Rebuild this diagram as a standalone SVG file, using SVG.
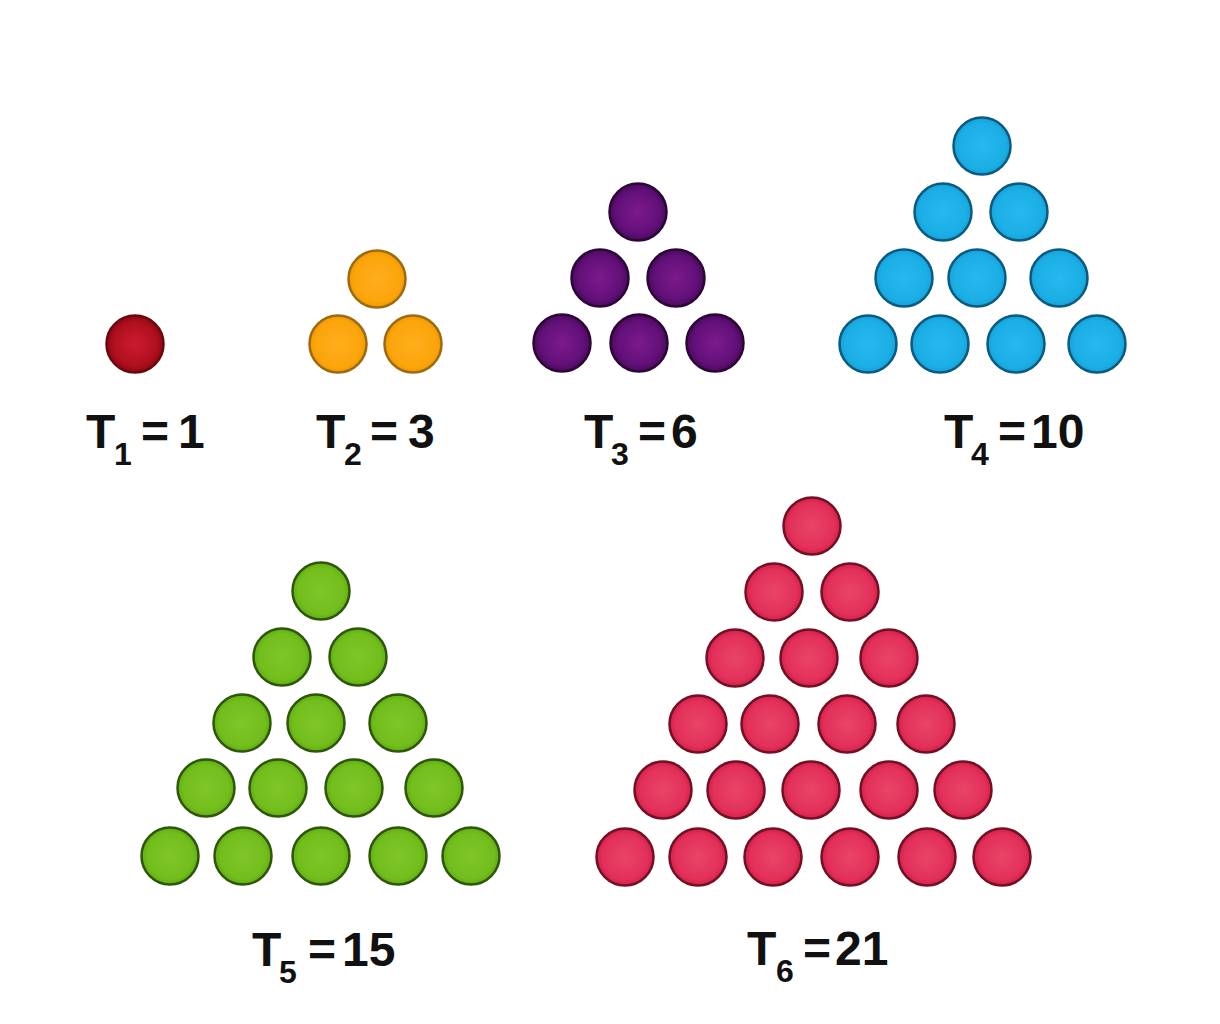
<svg xmlns="http://www.w3.org/2000/svg" width="1220" height="1024" viewBox="0 0 1220 1024">
<defs>
<radialGradient id="gRed" cx="0.5" cy="0.5" r="0.5"><stop offset="0" stop-color="#cc1a30"/><stop offset="0.75" stop-color="#b0101e"/><stop offset="1" stop-color="#8e0812"/></radialGradient>
<radialGradient id="gOrange" cx="0.5" cy="0.5" r="0.5"><stop offset="0" stop-color="#ffae1c"/><stop offset="0.8" stop-color="#fca50c"/><stop offset="1" stop-color="#f09a00"/></radialGradient>
<radialGradient id="gPurple" cx="0.5" cy="0.5" r="0.5"><stop offset="0" stop-color="#7c1a8c"/><stop offset="0.75" stop-color="#63107a"/><stop offset="1" stop-color="#4a0a5c"/></radialGradient>
<radialGradient id="gBlue" cx="0.5" cy="0.5" r="0.5"><stop offset="0" stop-color="#26b8ee"/><stop offset="0.8" stop-color="#1bafe6"/><stop offset="1" stop-color="#14a2da"/></radialGradient>
<radialGradient id="gGreen" cx="0.5" cy="0.5" r="0.5"><stop offset="0" stop-color="#80c628"/><stop offset="0.8" stop-color="#72be1c"/><stop offset="1" stop-color="#62ae12"/></radialGradient>
<radialGradient id="gPink" cx="0.5" cy="0.5" r="0.5"><stop offset="0" stop-color="#ea4468"/><stop offset="0.8" stop-color="#e2305a"/><stop offset="1" stop-color="#d41e4a"/></radialGradient>
</defs>
<style>
circle{stroke-width:2.5}
.red{fill:url(#gRed);stroke:#6a0810}
.orange{fill:url(#gOrange);stroke:#9c6a12}
.purple{fill:url(#gPurple);stroke:#2c0636}
.blue{fill:url(#gBlue);stroke:#0d5a80}
.green{fill:url(#gGreen);stroke:#2e560c}
.pink{fill:url(#gPink);stroke:#721024}
text{font-family:"Liberation Sans",Arial,sans-serif;font-weight:bold;fill:#111}
.main{font-size:48px}
.sub{font-size:32px}
</style>
<rect width="1220" height="1024" fill="#ffffff"/>
<g id="t1">
<circle class="red" cx="135" cy="344" r="28.5"/>
<text class="main" x="86" y="448">T</text><text class="sub" x="114" y="465">1</text><text class="main" x="141" y="448">=</text><text class="main" x="178" y="448">1</text>
</g>
<g id="t2">
<circle class="orange" cx="377" cy="279" r="28.5"/>
<circle class="orange" cx="338" cy="344" r="28.5"/><circle class="orange" cx="413" cy="344" r="28.5"/>
<text class="main" x="316" y="448">T</text><text class="sub" x="344" y="465">2</text><text class="main" x="370" y="448">=</text><text class="main" x="408" y="448">3</text>
</g>
<g id="t3">
<circle class="purple" cx="638" cy="212" r="28.5"/>
<circle class="purple" cx="600" cy="278" r="28.5"/><circle class="purple" cx="676" cy="278" r="28.5"/>
<circle class="purple" cx="562" cy="343" r="28.5"/><circle class="purple" cx="639" cy="343" r="28.5"/><circle class="purple" cx="715" cy="343" r="28.5"/>
<text class="main" x="584" y="448">T</text><text class="sub" x="611" y="465">3</text><text class="main" x="638" y="448">=</text><text class="main" x="671" y="448">6</text>
</g>
<g id="t4">
<circle class="blue" cx="982" cy="146" r="28.5"/>
<circle class="blue" cx="943" cy="212" r="28.5"/><circle class="blue" cx="1019" cy="212" r="28.5"/>
<circle class="blue" cx="904" cy="278" r="28.5"/><circle class="blue" cx="977" cy="278" r="28.5"/><circle class="blue" cx="1059" cy="278" r="28.5"/>
<circle class="blue" cx="868" cy="344" r="28.5"/><circle class="blue" cx="940" cy="344" r="28.5"/><circle class="blue" cx="1016" cy="344" r="28.5"/><circle class="blue" cx="1097" cy="344" r="28.5"/>
<text class="main" x="944" y="448">T</text><text class="sub" x="971" y="465">4</text><text class="main" x="998" y="448">=</text><text class="main" x="1031" y="448">10</text>
</g>
<g id="t5">
<circle class="green" cx="321" cy="591" r="28.5"/>
<circle class="green" cx="282" cy="657" r="28.5"/><circle class="green" cx="358" cy="657" r="28.5"/>
<circle class="green" cx="242" cy="723" r="28.5"/><circle class="green" cx="316" cy="723" r="28.5"/><circle class="green" cx="398" cy="723" r="28.5"/>
<circle class="green" cx="206" cy="788" r="28.5"/><circle class="green" cx="278" cy="788" r="28.5"/><circle class="green" cx="354" cy="788" r="28.5"/><circle class="green" cx="434" cy="788" r="28.5"/>
<circle class="green" cx="170" cy="856" r="28.5"/><circle class="green" cx="243" cy="856" r="28.5"/><circle class="green" cx="321" cy="856" r="28.5"/><circle class="green" cx="398" cy="856" r="28.5"/><circle class="green" cx="471" cy="856" r="28.5"/>
<text class="main" x="252" y="966">T</text><text class="sub" x="279" y="983">5</text><text class="main" x="308" y="966">=</text><text class="main" x="342" y="966">15</text>
</g>
<g id="t6">
<circle class="pink" cx="812" cy="526" r="28.5"/>
<circle class="pink" cx="774" cy="592" r="28.5"/><circle class="pink" cx="850" cy="592" r="28.5"/>
<circle class="pink" cx="735" cy="658" r="28.5"/><circle class="pink" cx="809" cy="658" r="28.5"/><circle class="pink" cx="889" cy="658" r="28.5"/>
<circle class="pink" cx="698" cy="724" r="28.5"/><circle class="pink" cx="770" cy="724" r="28.5"/><circle class="pink" cx="847" cy="724" r="28.5"/><circle class="pink" cx="926" cy="724" r="28.5"/>
<circle class="pink" cx="663" cy="790" r="28.5"/><circle class="pink" cx="736" cy="790" r="28.5"/><circle class="pink" cx="811" cy="790" r="28.5"/><circle class="pink" cx="889" cy="790" r="28.5"/><circle class="pink" cx="963" cy="790" r="28.5"/>
<circle class="pink" cx="625" cy="857" r="28.5"/><circle class="pink" cx="698" cy="857" r="28.5"/><circle class="pink" cx="773" cy="857" r="28.5"/><circle class="pink" cx="850" cy="857" r="28.5"/><circle class="pink" cx="927" cy="857" r="28.5"/><circle class="pink" cx="1002" cy="857" r="28.5"/>
<text class="main" x="747" y="965">T</text><text class="sub" x="776" y="982">6</text><text class="main" x="803" y="965">=</text><text class="main" x="835" y="965">21</text>
</g>
<g id="connectors"/>
</svg>
